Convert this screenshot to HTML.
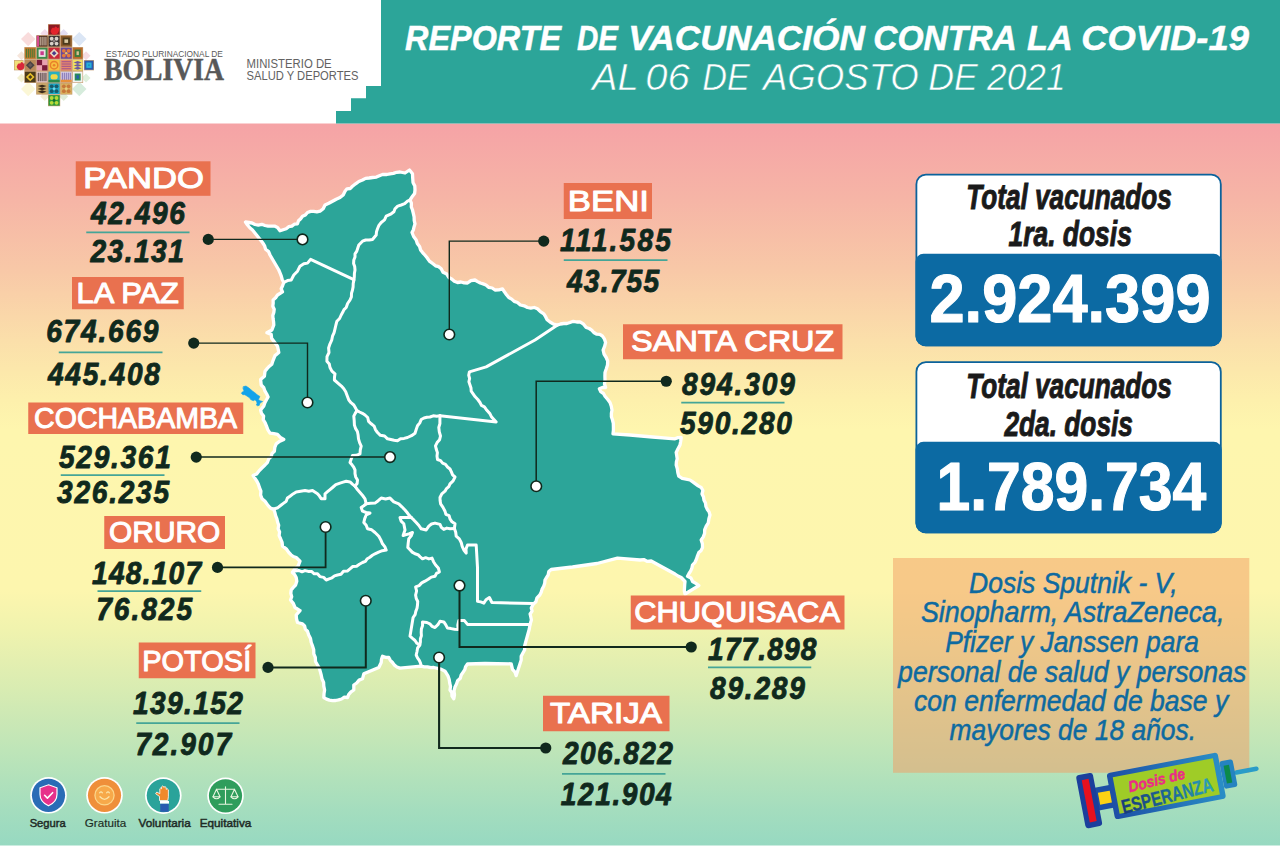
<!DOCTYPE html>
<html lang="es"><head><meta charset="utf-8"><title>Reporte de vacunación contra la COVID-19</title>
<style>html,body{margin:0;padding:0;background:#fff}body{width:1280px;height:847px;overflow:hidden;position:relative;font-family:"Liberation Sans",sans-serif}</style></head>
<body>
<svg width="1280" height="847" viewBox="0 0 1280 847" style="position:absolute;left:0;top:0;display:block">
<defs>
<linearGradient id="bg" x1="0" y1="0" x2="0" y2="1">
<stop offset="0" stop-color="#f5a3a6"/>
<stop offset="0.106" stop-color="#f6b5a6"/>
<stop offset="0.203" stop-color="#f8c8a7"/>
<stop offset="0.30" stop-color="#fbdfaa"/>
<stop offset="0.383" stop-color="#fdf0ac"/>
<stop offset="0.425" stop-color="#fef6ae"/>
<stop offset="0.646" stop-color="#fdf6ae"/>
<stop offset="0.701" stop-color="#f0f3ae"/>
<stop offset="0.743" stop-color="#e4efb0"/>
<stop offset="0.784" stop-color="#d8ecb2"/>
<stop offset="0.826" stop-color="#cbe8b5"/>
<stop offset="0.868" stop-color="#bee5b8"/>
<stop offset="0.909" stop-color="#b1e1bb"/>
<stop offset="0.951" stop-color="#a4ddbe"/>
<stop offset="1" stop-color="#97d9c1"/>
</linearGradient>
<linearGradient id="syr" x1="0" y1="0" x2="1" y2="0"><stop offset="0" stop-color="#1d4fa6"/><stop offset="1" stop-color="#2a8ec6"/></linearGradient>
<linearGradient id="esp" x1="0" y1="0" x2="1" y2="0"><stop offset="0" stop-color="#173a7a"/><stop offset="0.6" stop-color="#1f6f9c"/><stop offset="1" stop-color="#2aa3b8"/></linearGradient>
</defs>
<rect x="0" y="0" width="1280" height="847" fill="#fff"/>
<rect x="0" y="123.5" width="1280" height="722" fill="url(#bg)"/>
<polygon points="381,0 1280,0 1280,123.5 336,123.5 336,111 351,111 351,98.3 366,98.3 366,86 381,86" fill="#2ca599"/>
<g stroke-linejoin="round" stroke-linecap="round">
<polygon points="245.5,222.0 248.8,222.5 252.0,223.0 255.0,224.5 258.3,225.1 261.8,224.3 265.0,225.5 268.1,226.1 271.3,226.2 274.5,226.1 277.5,227.5 280.0,230.8 283.1,229.8 286.2,228.8 288.7,226.7 291.8,226.1 294.3,224.2 297.5,223.8 298.5,220.8 300.7,218.7 302.5,216.2 305.4,214.9 307.5,212.5 310.6,211.4 313.7,211.3 316.9,211.8 320.0,211.2 323.2,208.7 325.0,205.0 328.8,203.3 332.5,201.2 336.2,199.2 340.0,197.5 343.2,195.0 345.0,191.2 347.0,188.8 350.4,188.5 352.5,186.2 355.6,183.8 358.8,181.5 362.5,180.0 365.6,178.4 369.1,178.0 372.5,177.5 376.4,177.1 380.0,175.5 383.2,174.3 386.7,174.5 390.0,173.8 393.4,173.4 396.6,172.3 400.0,172.0 405.0,173.0 409.5,170.0 412.5,173.8 412.7,178.1 413.0,182.5 414.8,186.0 415.0,190.0 414.6,193.5 412.5,196.2 410.0,200.0 411.4,203.2 411.3,206.8 412.5,210.0 413.3,213.4 414.1,216.8 414.2,220.3 415.0,223.8 414.1,226.7 413.4,229.7 412.0,232.5 413.6,236.5 416.2,240.0 417.3,243.5 419.6,246.5 420.6,250.0 422.6,252.6 424.8,255.0 426.9,257.5 429.4,261.1 433.0,263.8 435.5,265.8 438.7,266.7 441.2,268.8 443.0,272.3 446.8,274.1 448.8,277.5 451.7,279.0 454.3,281.3 457.5,282.5 460.9,282.0 464.2,282.8 467.5,283.0 470.9,280.6 475.0,280.0 477.6,281.6 480.3,283.0 483.2,283.9 486.0,285.0 488.6,287.3 492.2,288.0 495.0,290.0 498.8,289.8 502.5,288.8 504.4,291.8 506.5,294.7 508.8,297.5 511.7,299.1 514.2,301.4 517.5,302.5 520.4,305.0 524.2,305.8 527.5,307.5 530.8,308.2 534.3,307.5 537.5,308.8 540.4,311.6 543.8,313.8 545.6,316.7 547.1,319.8 550.0,322.0 553.5,324.1 557.5,325.0 560.5,324.0 563.7,323.5 566.9,323.5 570.0,322.5 573.3,321.3 576.7,322.0 580.0,321.9 583.6,324.2 586.2,327.5 589.2,328.5 591.7,330.1 593.8,332.5 596.5,334.2 599.9,334.3 602.5,336.2 604.5,339.2 605.6,342.5 604.6,346.3 603.1,350.0 604.0,354.0 606.2,357.5 607.7,361.1 607.5,365.0 606.3,368.8 605.0,372.5 604.9,376.2 605.0,380.0 604.5,383.8 605.6,387.5 602.4,387.5 599.4,388.8 600.7,391.7 603.5,393.5 605.0,396.2 607.6,399.3 610.0,402.5 611.3,406.2 612.0,410.0 611.4,413.4 611.4,416.7 612.5,420.0 613.3,423.4 613.4,426.9 613.4,430.3 613.0,433.8 630.0,435.0 652.5,437.0 675.0,438.8 678.0,437.6 681.2,437.5 680.7,441.3 680.0,445.0 678.0,448.7 676.2,452.5 676.7,455.6 677.2,458.8 676.4,461.9 676.2,465.0 677.3,468.7 677.8,472.5 678.8,476.2 682.2,478.4 686.1,479.1 690.0,480.0 692.8,481.9 695.5,483.9 698.2,485.9 701.2,487.5 702.9,490.5 702.0,494.0 703.5,497.0 704.0,500.2 705.5,503.0 705.9,506.3 707.2,509.2 709.1,511.9 710.0,515.0 708.9,518.8 708.3,522.8 706.2,526.2 704.7,529.6 704.6,533.4 703.3,536.9 701.2,540.0 702.4,543.7 702.5,547.5 701.2,550.4 698.8,552.5 697.5,555.8 696.4,559.2 695.0,562.3 692.5,565.0 691.9,568.1 690.7,570.9 689.0,573.5 687.5,576.2 690.9,577.9 692.6,581.5 695.8,583.4 698.8,585.6 685.0,594.0 684.3,590.9 684.5,587.8 684.7,584.6 685.0,581.5 681.2,577.5 678.0,576.0 675.0,574.0 651.2,561.0 647.4,561.4 643.8,559.6 640.0,560.0 617.5,558.1 597.0,563.5 572.5,567.0 551.2,569.5 548.8,571.6 548.2,574.8 546.6,577.4 545.0,580.0 544.7,583.3 543.7,586.3 542.1,589.1 541.2,592.2 539.8,595.0 537.0,597.8 535.9,601.7 533.1,604.4 531.3,608.0 532.1,611.1 530.1,614.0 530.8,617.0 531.4,620.0 530.5,623.0 529.8,626.0 529.3,629.0 524.6,646.0 524.7,649.7 522.9,653.0 521.2,656.3 521.2,660.0 516.2,675.6 515.0,672.1 512.5,669.4 511.2,663.8 485.0,663.5 467.5,664.0 465.6,666.6 464.8,669.7 463.0,672.4 461.2,675.0 460.3,678.3 457.6,680.7 456.5,684.0 455.0,687.0 454.0,690.9 454.5,694.9 453.8,698.8 452.0,696.1 451.8,692.7 450.0,690.0 450.5,686.4 449.7,683.0 449.2,679.6 448.1,676.2 445.0,671.2 441.5,669.4 437.7,668.3 433.8,667.5 430.6,667.7 427.5,666.8 424.3,666.8 421.2,666.2 400.0,668.1 396.9,667.0 394.4,665.1 392.5,662.5 390.3,660.3 388.8,657.5 385.5,657.3 382.5,656.2 381.5,659.3 381.2,662.5 378.8,667.5 363.8,673.8 362.5,678.8 359.1,680.1 356.7,683.0 353.8,685.0 353.8,690.0 351.0,691.9 348.8,694.4 347.5,697.5 344.3,697.2 341.6,699.0 338.6,699.9 335.6,700.5 332.5,700.6 329.4,700.1 326.5,699.1 323.8,697.5 324.0,693.8 324.6,690.0 323.8,686.2 323.6,682.4 322.0,678.8 321.2,675.0 320.3,671.6 319.3,668.1 317.5,665.0 315.5,661.5 315.3,657.4 313.8,653.8 313.7,649.8 312.6,646.1 311.2,642.5 310.5,638.6 308.7,635.0 307.5,631.2 305.3,629.1 304.6,625.9 302.5,623.8 297.5,622.5 296.5,618.8 296.2,615.0 300.0,610.6 295.0,607.5 293.3,603.4 290.5,600.0 291.7,596.7 290.8,593.3 291.2,590.0 293.3,587.4 295.6,585.0 296.8,581.3 296.2,577.5 294.7,574.7 292.5,572.5 294.8,568.9 298.1,566.2 300.0,561.2 296.2,557.5 293.3,556.5 290.9,554.7 288.8,552.5 286.2,548.8 282.5,546.2 282.1,542.3 280.6,538.8 279.1,535.6 279.6,531.9 278.1,528.8 278.7,525.3 277.6,522.0 276.9,518.8 275.6,515.7 274.9,512.5 273.8,509.4 270.5,508.1 268.1,505.6 265.0,501.2 262.0,498.7 260.6,495.0 260.9,491.1 259.4,487.5 258.4,484.3 256.9,481.2 255.0,478.4 253.1,475.6 256.5,474.1 258.8,471.2 261.8,468.0 265.0,465.0 267.5,462.3 268.8,458.8 271.2,456.6 272.1,453.4 274.4,451.2 274.8,447.4 276.2,443.8 279.8,441.2 283.8,439.4 280.3,437.3 277.5,434.4 273.8,433.6 270.0,433.1 267.9,429.8 266.5,426.1 265.0,422.5 263.2,419.6 263.6,416.0 261.4,413.2 260.6,410.0 263.8,405.9 265.0,402.5 266.5,399.7 268.1,396.9 266.7,394.0 265.0,391.2 263.8,387.7 261.2,385.0 260.6,379.4 264.4,376.2 265.0,371.2 267.1,368.6 269.4,366.2 271.8,364.2 272.8,361.2 273.9,358.4 275.0,355.6 278.8,352.5 278.2,349.4 277.5,346.2 275.7,343.7 273.8,341.2 271.6,338.2 271.2,334.4 266.9,332.8 271.9,330.0 273.8,325.0 273.6,321.9 273.1,318.8 272.8,315.6 273.8,312.5 274.2,309.3 272.8,306.3 273.2,303.1 273.1,300.0 275.6,297.8 277.5,295.0 282.5,291.9 281.2,288.8 282.6,285.7 283.8,282.5 282.2,279.5 281.3,276.2 280.1,273.1 278.8,270.0 270.0,255.0 268.6,251.6 265.6,249.2 264.5,245.6 262.5,242.5 252.5,230.0 249.8,227.7 247.5,225.0" fill="#2ca599" stroke="#fff" stroke-width="3.3"/>
<polyline points="283.8,282.5 287.5,280.6 291.2,280.0 293.8,275.0 297.5,271.2 300.0,266.2 303.8,263.8 307.5,263.1 310.6,259.4 353.8,279.6" fill="none" stroke="#fff" stroke-width="3.0"/>
<polyline points="353.8,280.5 354.3,277.0 354.4,273.5 355.0,270.0 354.7,266.6 353.6,263.4 353.8,260.0 355.0,257.0 355.0,253.8 356.8,251.1 357.8,248.0 358.8,245.0 362.5,241.2 365.7,240.0 369.2,240.1 372.5,239.5 376.2,235.0 376.5,231.8 377.5,228.8 378.9,225.4 381.2,222.5 384.5,219.9 386.2,216.2 391.2,213.8 393.9,211.8 395.0,208.8 397.7,206.1 401.2,205.0 404.7,203.7 407.5,201.2 410.0,200.0" fill="none" stroke="#fff" stroke-width="3.0"/>
<polyline points="353.8,280.5 353.2,283.6 353.1,286.9 352.5,290.0 351.5,293.3 351.4,296.8 350.0,300.0 347.6,303.5 346.2,307.5 344.0,309.6 342.7,312.3 341.2,315.0 339.6,318.5 336.9,321.2 335.9,325.0 335.0,328.8 334.1,332.6 332.5,336.2 331.7,340.2 330.0,343.8 328.6,348.0 329.0,352.5 327.0,356.6 326.9,361.2 329.3,364.0 330.0,367.5 331.9,371.1 335.0,373.8 334.5,376.9 334.4,380.0 338.8,383.8 341.4,386.1 343.8,388.8 345.7,391.7 346.9,395.0 348.8,400.0 351.0,402.7 353.8,405.0 355.4,407.8 356.9,410.6" fill="none" stroke="#fff" stroke-width="3.0"/>
<polyline points="356.9,410.6 359.6,412.0 362.4,413.3 365.0,415.0 367.7,417.5 368.6,421.3 371.2,423.8 374.1,426.1 375.4,429.6 377.5,432.5 380.4,435.3 384.6,436.0 387.5,438.8 390.8,439.5 394.1,440.3 397.5,440.8 400.5,438.8 404.1,438.4 407.5,437.5 411.5,435.7 415.0,433.2 416.2,429.5 417.5,425.8 419.8,422.9 421.2,419.5 424.0,418.0 426.9,417.3 430.0,417.0 433.2,415.8 436.7,416.2 440.0,415.8" fill="none" stroke="#fff" stroke-width="3.0"/>
<polyline points="440.0,415.8 496.2,421.9 493.9,419.4 491.5,416.9 490.0,413.8 486.2,409.4 484.4,406.9 481.4,405.4 480.0,402.5 477.8,399.5 475.2,396.8 473.1,393.8 471.2,391.1 471.0,387.9 470.0,385.0 468.9,381.8 469.6,378.5 468.7,375.2 469.4,371.9 486.2,366.9 535.0,340.0 557.5,325.0" fill="none" stroke="#fff" stroke-width="3.0"/>
<polyline points="356.9,410.6 355.2,413.4 353.8,416.2 354.2,420.6 354.4,425.0 355.5,428.4 357.4,431.5 358.1,435.0 358.5,438.9 359.6,442.7 361.2,446.2 360.3,449.9 360.0,453.8 356.4,455.3 352.5,455.6 351.2,459.0 350.0,462.5 352.0,464.8 353.7,467.2 355.0,470.0 355.0,473.6 355.7,476.9 357.5,480.0 357.1,483.5 355.0,486.2" fill="none" stroke="#fff" stroke-width="3.0"/>
<polyline points="355.0,486.2 352.4,484.1 350.0,481.9 346.2,481.2 343.1,482.1 340.0,483.1 335.8,484.6 332.5,487.5 330.0,489.6 327.5,491.7 325.0,493.8 325.0,498.8 321.2,498.8 319.5,496.1 317.5,493.8 312.5,490.6 308.8,491.2 305.0,490.6 300.6,491.2 296.2,491.9 293.0,493.9 290.0,496.2 287.4,498.0 286.2,501.2 283.7,503.1 281.2,505.0 277.9,507.7 273.8,509.0" fill="none" stroke="#fff" stroke-width="3.0"/>
<polyline points="355.0,486.2 357.4,489.5 360.0,492.5 362.6,495.5 365.0,498.8 366.2,503.8" fill="none" stroke="#fff" stroke-width="3.0"/>
<polyline points="366.2,503.8 370.6,503.3 375.0,503.1 378.2,500.7 381.2,498.1 385.6,498.9 390.0,498.1 393.8,501.9 398.8,503.8 401.9,506.8 405.0,510.0 407.1,512.5 409.0,515.1 411.2,517.5" fill="none" stroke="#fff" stroke-width="3.0"/>
<polyline points="411.2,517.5 413.8,519.9 416.2,522.5 418.9,525.5 421.2,528.8 426.2,530.0 428.8,526.2 431.5,524.0 435.0,523.1 440.0,524.4 441.3,527.3 443.8,529.4 446.8,528.1 450.0,528.8 454.4,528.5" fill="none" stroke="#fff" stroke-width="3.0"/>
<polyline points="440.0,415.8 439.9,419.7 439.9,423.7 438.8,427.5 439.3,431.8 440.5,436.0 439.6,439.7 437.1,442.6 435.5,445.9 436.3,449.3 437.4,452.6 437.0,456.1 437.5,459.5 440.6,460.6 442.6,463.1 445.5,464.4 447.5,467.0 450.0,469.0 451.4,471.9 452.6,474.9 455.0,477.0 453.1,480.8 450.0,483.8 448.8,486.6 446.5,488.6 445.0,491.2 441.8,493.8 440.0,497.5 440.1,500.6 440.6,503.8 443.0,507.4 445.0,511.2 445.9,514.3 449.1,515.7 450.0,518.8 452.0,521.8 455.0,523.8 454.4,528.5" fill="none" stroke="#fff" stroke-width="3.0"/>
<polyline points="454.4,528.5 455.7,532.3 456.2,536.2 459.3,538.9 461.2,542.5 462.2,546.3 463.8,550.0 466.2,553.1 466.0,548.9 467.5,545.0 471.9,545.1 476.2,545.0 477.5,567.5 477.5,601.2 480.7,601.9 483.8,603.1 486.0,599.7 489.4,597.5 491.9,602.5 533.1,603.5" fill="none" stroke="#fff" stroke-width="3.0"/>
<polyline points="411.2,517.5 407.5,517.6 403.8,517.4 400.0,517.5 401.1,521.1 403.8,523.8 404.4,526.9 405.0,530.0 403.1,535.6 406.2,534.6 409.4,533.7 412.5,532.5 411.2,535.9 408.8,538.8 408.2,543.1 407.8,547.5 410.0,549.8 412.2,552.1 415.0,553.8 418.0,554.7 420.2,556.8 422.5,558.8 425.6,557.7 428.9,558.9 432.0,558.1 433.5,561.7 435.6,565.0 438.3,568.0 439.4,571.9 436.5,573.4 435.0,576.2 431.3,577.1 428.2,579.3 425.0,581.2 421.7,582.9 419.1,585.6 415.6,586.9 416.6,591.0 415.6,595.0 416.2,598.3 417.7,601.5 417.5,605.0 417.0,608.3 415.8,611.4 415.1,614.7 413.1,617.5 410.0,636.2 412.5,638.4 415.0,640.5 416.9,643.3 419.8,645.0" fill="none" stroke="#fff" stroke-width="3.0"/>
<polyline points="366.2,503.8 363.8,505.7 361.2,507.5 362.5,511.2 366.2,512.5 370.0,513.1 366.2,515.0 364.7,518.6 363.8,522.5 366.2,525.3 367.5,528.8 371.7,529.8 375.0,532.5 378.8,536.2 380.8,539.9 382.5,543.8 384.8,546.6 386.2,550.0 382.3,550.7 378.6,552.1 375.0,553.8 372.4,555.3 369.9,557.2 367.3,558.7 365.4,561.3 362.5,562.5 359.4,564.2 356.6,566.2 352.8,566.5 350.0,568.8 347.3,571.1 343.5,571.3 341.0,574.2 337.5,575.0 334.5,575.9 332.0,577.8 329.1,578.9 326.2,580.0 323.7,577.4 319.9,576.6 317.5,573.8 314.2,573.8 311.5,571.4 308.1,571.4 305.0,570.6 302.0,571.8 298.6,570.4 295.5,570.9 292.5,572.2" fill="none" stroke="#fff" stroke-width="3.0"/>
<polyline points="421.2,666.2 420.5,663.2 419.3,660.4 417.5,657.8 416.2,655.0 417.0,651.5 417.6,648.0 419.8,645.0 420.4,641.9 420.4,638.7 421.4,635.7 421.2,632.5 421.4,628.9 422.6,625.5 422.5,621.9 426.9,622.5 429.8,623.8 432.0,626.3 435.0,627.5 437.9,624.7 440.0,621.2 443.8,621.9 445.8,624.9 447.5,628.1 451.0,628.6 454.5,629.3 458.1,629.4 457.8,625.0 458.8,620.6 464.4,620.6 467.5,624.4 530.0,624.4" fill="none" stroke="#fff" stroke-width="3.0"/>
<polygon points="243.5,386.6 246.0,386.0 249.0,388.1 252.4,390.9 255.8,393.4 257.5,395.1 259.9,396.4 259.2,398.1 258.4,399.4 260.1,400.7 262.6,401.5 260.9,402.6 259.7,403.7 259.2,405.4 257.5,405.8 256.3,404.9 257.1,403.2 256.5,401.5 255.0,399.8 253.3,400.7 250.7,399.6 249.9,398.1 246.9,396.0 244.8,394.7 242.9,394.7 241.4,393.4 242.2,392.0 244.1,391.3 243.1,388.8" fill="#12a3ea" stroke="#12a3ea" stroke-width="0.6"/>
</g>
<polyline points="302.5,239.4 208.2,239.4" fill="none" stroke="#10291d" stroke-width="1.35"/>
<circle cx="302.5" cy="239.4" r="5.3" fill="#fff" stroke="#10291d" stroke-width="1.6"/>
<circle cx="208.25" cy="239.4" r="5.6" fill="#10291d"/>
<polyline points="307.5,402.5 307.5,343.1 193.8,343.1" fill="none" stroke="#10291d" stroke-width="1.4"/>
<circle cx="307.5" cy="402.5" r="5.3" fill="#fff" stroke="#10291d" stroke-width="1.6"/>
<circle cx="193.75" cy="343.1" r="5.6" fill="#10291d"/>
<polyline points="390.0,457.1 196.2,457.1" fill="none" stroke="#10291d" stroke-width="1.5"/>
<circle cx="390" cy="457.1" r="5.3" fill="#fff" stroke="#10291d" stroke-width="1.6"/>
<circle cx="196.25" cy="457.1" r="5.6" fill="#10291d"/>
<polyline points="325.6,527.0 325.6,567.4 217.5,567.4" fill="none" stroke="#10291d" stroke-width="1.8"/>
<circle cx="325.6" cy="527" r="5.3" fill="#fff" stroke="#10291d" stroke-width="1.6"/>
<circle cx="217.5" cy="567.4" r="5.6" fill="#10291d"/>
<polyline points="365.8,600.8 365.8,667.4 268.0,667.4" fill="none" stroke="#10291d" stroke-width="2.0"/>
<circle cx="365.75" cy="600.75" r="5.3" fill="#fff" stroke="#10291d" stroke-width="1.6"/>
<circle cx="268" cy="667.4" r="5.6" fill="#10291d"/>
<polyline points="449.3,334.5 449.3,241.1 543.8,241.1" fill="none" stroke="#10291d" stroke-width="1.4"/>
<circle cx="449.3" cy="334.5" r="5.3" fill="#fff" stroke="#10291d" stroke-width="1.6"/>
<circle cx="543.75" cy="241.1" r="5.6" fill="#10291d"/>
<polyline points="536.2,486.2 536.2,381.2 666.2,381.2" fill="none" stroke="#10291d" stroke-width="1.5"/>
<circle cx="536.25" cy="486.25" r="5.3" fill="#fff" stroke="#10291d" stroke-width="1.6"/>
<circle cx="666.25" cy="381.25" r="5.6" fill="#10291d"/>
<polyline points="459.5,585.6 459.5,647.0 691.2,647.0" fill="none" stroke="#10291d" stroke-width="2.0"/>
<circle cx="459.5" cy="585.6" r="5.3" fill="#fff" stroke="#10291d" stroke-width="1.6"/>
<circle cx="691.25" cy="647" r="5.6" fill="#10291d"/>
<polyline points="439.1,657.5 439.1,748.0 545.8,748.0" fill="none" stroke="#10291d" stroke-width="2.1"/>
<circle cx="439.1" cy="657.5" r="5.3" fill="#fff" stroke="#10291d" stroke-width="1.6"/>
<circle cx="545.75" cy="748" r="5.6" fill="#10291d"/>
<text x="405.10" y="50.3" textLength="155.92" lengthAdjust="spacingAndGlyphs" font-family="'Liberation Sans', sans-serif" font-size="34.5" font-weight="bold" font-style="italic" fill="#fff" stroke="#fff" stroke-width="0.5">REPORTE</text>
<text x="577.10" y="50.3" textLength="40.93" lengthAdjust="spacingAndGlyphs" font-family="'Liberation Sans', sans-serif" font-size="34.5" font-weight="bold" font-style="italic" fill="#fff" stroke="#fff" stroke-width="0.5">DE</text>
<text x="628.38" y="50.3" textLength="236.65" lengthAdjust="spacingAndGlyphs" font-family="'Liberation Sans', sans-serif" font-size="34.5" font-weight="bold" font-style="italic" fill="#fff" stroke="#fff" stroke-width="0.5">VACUNACIÓN</text>
<text x="873.23" y="50.3" textLength="143.48" lengthAdjust="spacingAndGlyphs" font-family="'Liberation Sans', sans-serif" font-size="34.5" font-weight="bold" font-style="italic" fill="#fff" stroke="#fff" stroke-width="0.5">CONTRA</text>
<text x="1027.12" y="50.3" textLength="45.60" lengthAdjust="spacingAndGlyphs" font-family="'Liberation Sans', sans-serif" font-size="34.5" font-weight="bold" font-style="italic" fill="#fff" stroke="#fff" stroke-width="0.5">LA</text>
<text x="1081.26" y="50.3" textLength="167.66" lengthAdjust="spacingAndGlyphs" font-family="'Liberation Sans', sans-serif" font-size="34.5" font-weight="bold" font-style="italic" fill="#fff" stroke="#fff" stroke-width="0.5">COVID-19</text>
<text x="592.01" y="90.4" textLength="46.60" lengthAdjust="spacingAndGlyphs" font-family="'Liberation Sans', sans-serif" font-size="36.3" font-weight="normal" font-style="italic" fill="#fff" stroke="#2ca599" stroke-width="0.55">AL</text>
<text x="645.36" y="90.4" textLength="44.53" lengthAdjust="spacingAndGlyphs" font-family="'Liberation Sans', sans-serif" font-size="36.3" font-weight="normal" font-style="italic" fill="#fff" stroke="#2ca599" stroke-width="0.55">06</text>
<text x="702.30" y="90.4" textLength="47.63" lengthAdjust="spacingAndGlyphs" font-family="'Liberation Sans', sans-serif" font-size="36.3" font-weight="normal" font-style="italic" fill="#fff" stroke="#2ca599" stroke-width="0.55">DE</text>
<text x="762.98" y="90.4" textLength="155.85" lengthAdjust="spacingAndGlyphs" font-family="'Liberation Sans', sans-serif" font-size="36.3" font-weight="normal" font-style="italic" fill="#fff" stroke="#2ca599" stroke-width="0.55">AGOSTO</text>
<text x="928.28" y="90.4" textLength="49.60" lengthAdjust="spacingAndGlyphs" font-family="'Liberation Sans', sans-serif" font-size="36.3" font-weight="normal" font-style="italic" fill="#fff" stroke="#2ca599" stroke-width="0.55">DE</text>
<text x="987.09" y="90.4" textLength="78.49" lengthAdjust="spacingAndGlyphs" font-family="'Liberation Sans', sans-serif" font-size="36.3" font-weight="normal" font-style="italic" fill="#fff" stroke="#2ca599" stroke-width="0.55">2021</text>
<text x="106.05" y="57.1" textLength="116.87" lengthAdjust="spacingAndGlyphs" font-family="'Liberation Sans', sans-serif" font-size="8.3" font-weight="normal" font-style="normal" fill="#5a5a5a" >ESTADO PLURINACIONAL DE</text>
<text x="104.10" y="79.6" textLength="119.90" lengthAdjust="spacingAndGlyphs" font-family="'Liberation Serif', sans-serif" font-size="30.6" font-weight="bold" font-style="normal" fill="#585858" stroke="#585858" stroke-width="0.45">BOLIVIA</text>
<text x="246.54" y="68.2" textLength="85.14" lengthAdjust="spacingAndGlyphs" font-family="'Liberation Sans', sans-serif" font-size="12.1" font-weight="normal" font-style="normal" fill="#626262" >MINISTERIO DE</text>
<text x="246.54" y="80.1" textLength="111.92" lengthAdjust="spacingAndGlyphs" font-family="'Liberation Sans', sans-serif" font-size="12.1" font-weight="normal" font-style="normal" fill="#626262" >SALUD Y DEPORTES</text>
<rect x="75.75" y="161.3" width="134.75" height="34.50" fill="#e9714f"/>
<text x="83.25" y="188.2" textLength="120.60" lengthAdjust="spacingAndGlyphs" font-family="'Liberation Sans', sans-serif" font-size="28.9" font-weight="normal" font-style="normal" fill="#fff" stroke="#fff" stroke-width="1.0" stroke-linejoin="round">PANDO</text>
<rect x="72" y="277" width="111.75" height="32.25" fill="#e9714f"/>
<text x="76.50" y="302.8" textLength="102.40" lengthAdjust="spacingAndGlyphs" font-family="'Liberation Sans', sans-serif" font-size="28.9" font-weight="normal" font-style="normal" fill="#fff" stroke="#fff" stroke-width="1.0" stroke-linejoin="round">LA PAZ</text>
<rect x="28.25" y="402.5" width="215.00" height="31.50" fill="#e9714f"/>
<text x="34.10" y="427.9" textLength="202.90" lengthAdjust="spacingAndGlyphs" font-family="'Liberation Sans', sans-serif" font-size="28.9" font-weight="normal" font-style="normal" fill="#fff" stroke="#fff" stroke-width="1.0" stroke-linejoin="round">COCHABAMBA</text>
<rect x="104.25" y="516" width="120.75" height="33.00" fill="#e9714f"/>
<text x="109.10" y="542.2" textLength="111.28" lengthAdjust="spacingAndGlyphs" font-family="'Liberation Sans', sans-serif" font-size="28.9" font-weight="normal" font-style="normal" fill="#fff" stroke="#fff" stroke-width="1.0" stroke-linejoin="round">ORURO</text>
<rect x="138.75" y="642.5" width="116.75" height="35.75" fill="#e9714f"/>
<text x="142.25" y="671.2" textLength="108.97" lengthAdjust="spacingAndGlyphs" font-family="'Liberation Sans', sans-serif" font-size="28.9" font-weight="normal" font-style="normal" fill="#fff" stroke="#fff" stroke-width="1.0" stroke-linejoin="round">POTOSÍ</text>
<rect x="563.75" y="183" width="88.25" height="36.00" fill="#e9714f"/>
<text x="567.80" y="210.7" textLength="81.10" lengthAdjust="spacingAndGlyphs" font-family="'Liberation Sans', sans-serif" font-size="28.9" font-weight="normal" font-style="normal" fill="#fff" stroke="#fff" stroke-width="1.0" stroke-linejoin="round">BENI</text>
<rect x="623" y="324.25" width="219.50" height="35.00" fill="#e9714f"/>
<text x="631.10" y="351.4" textLength="203.32" lengthAdjust="spacingAndGlyphs" font-family="'Liberation Sans', sans-serif" font-size="28.9" font-weight="normal" font-style="normal" fill="#fff" stroke="#fff" stroke-width="1.0" stroke-linejoin="round">SANTA CRUZ</text>
<rect x="630.75" y="595.5" width="213.75" height="34.00" fill="#e9714f"/>
<text x="634.15" y="622.2" textLength="205.85" lengthAdjust="spacingAndGlyphs" font-family="'Liberation Sans', sans-serif" font-size="28.9" font-weight="normal" font-style="normal" fill="#fff" stroke="#fff" stroke-width="1.0" stroke-linejoin="round">CHUQUISACA</text>
<rect x="543" y="695.75" width="126.50" height="35.50" fill="#e9714f"/>
<text x="550.05" y="723.2" textLength="111.95" lengthAdjust="spacingAndGlyphs" font-family="'Liberation Sans', sans-serif" font-size="28.9" font-weight="normal" font-style="normal" fill="#fff" stroke="#fff" stroke-width="1.0" stroke-linejoin="round">TARIJA</text>
<text transform="translate(90.97,223.9) scale(0.92,1)" textLength="102.20" lengthAdjust="spacing" font-family="'Liberation Sans', sans-serif" font-size="30.6" font-weight="bold" font-style="italic" fill="#10291d" stroke="#10291d" stroke-width="0.85" stroke-linejoin="round">42.496</text>
<text transform="translate(90.47,262.2) scale(0.92,1)" textLength="101.49" lengthAdjust="spacing" font-family="'Liberation Sans', sans-serif" font-size="30.6" font-weight="bold" font-style="italic" fill="#10291d" stroke="#10291d" stroke-width="0.85" stroke-linejoin="round">23.131</text>
<text transform="translate(46.15,342.2) scale(0.92,1)" textLength="122.15" lengthAdjust="spacing" font-family="'Liberation Sans', sans-serif" font-size="30.6" font-weight="bold" font-style="italic" fill="#10291d" stroke="#10291d" stroke-width="0.85" stroke-linejoin="round">674.669</text>
<text transform="translate(48.00,385.2) scale(0.92,1)" textLength="121.74" lengthAdjust="spacing" font-family="'Liberation Sans', sans-serif" font-size="30.6" font-weight="bold" font-style="italic" fill="#10291d" stroke="#10291d" stroke-width="0.85" stroke-linejoin="round">445.408</text>
<text transform="translate(59.05,467.9) scale(0.92,1)" textLength="121.52" lengthAdjust="spacing" font-family="'Liberation Sans', sans-serif" font-size="30.6" font-weight="bold" font-style="italic" fill="#10291d" stroke="#10291d" stroke-width="0.85" stroke-linejoin="round">529.361</text>
<text transform="translate(57.05,502.7) scale(0.92,1)" textLength="121.74" lengthAdjust="spacing" font-family="'Liberation Sans', sans-serif" font-size="30.6" font-weight="bold" font-style="italic" fill="#10291d" stroke="#10291d" stroke-width="0.85" stroke-linejoin="round">326.235</text>
<text transform="translate(92.05,584.2) scale(0.92,1)" textLength="118.53" lengthAdjust="spacing" font-family="'Liberation Sans', sans-serif" font-size="30.6" font-weight="bold" font-style="italic" fill="#10291d" stroke="#10291d" stroke-width="0.85" stroke-linejoin="round">148.107</text>
<text transform="translate(96.28,619.7) scale(0.92,1)" textLength="104.10" lengthAdjust="spacing" font-family="'Liberation Sans', sans-serif" font-size="30.6" font-weight="bold" font-style="italic" fill="#10291d" stroke="#10291d" stroke-width="0.85" stroke-linejoin="round">76.825</text>
<text transform="translate(133.07,714.0) scale(0.92,1)" textLength="119.43" lengthAdjust="spacing" font-family="'Liberation Sans', sans-serif" font-size="30.6" font-weight="bold" font-style="italic" fill="#10291d" stroke="#10291d" stroke-width="0.85" stroke-linejoin="round">139.152</text>
<text transform="translate(135.20,755.2) scale(0.92,1)" textLength="104.24" lengthAdjust="spacing" font-family="'Liberation Sans', sans-serif" font-size="30.6" font-weight="bold" font-style="italic" fill="#10291d" stroke="#10291d" stroke-width="0.85" stroke-linejoin="round">72.907</text>
<text transform="translate(560.05,250.9) scale(0.92,1)" textLength="120.62" lengthAdjust="spacing" font-family="'Liberation Sans', sans-serif" font-size="30.6" font-weight="bold" font-style="italic" fill="#10291d" stroke="#10291d" stroke-width="0.85" stroke-linejoin="round">111.585</text>
<text transform="translate(566.92,291.7) scale(0.92,1)" textLength="100.19" lengthAdjust="spacing" font-family="'Liberation Sans', sans-serif" font-size="30.6" font-weight="bold" font-style="italic" fill="#10291d" stroke="#10291d" stroke-width="0.85" stroke-linejoin="round">43.755</text>
<text transform="translate(682.00,394.7) scale(0.92,1)" textLength="122.77" lengthAdjust="spacing" font-family="'Liberation Sans', sans-serif" font-size="30.6" font-weight="bold" font-style="italic" fill="#10291d" stroke="#10291d" stroke-width="0.85" stroke-linejoin="round">894.309</text>
<text transform="translate(680.00,434.2) scale(0.92,1)" textLength="121.74" lengthAdjust="spacing" font-family="'Liberation Sans', sans-serif" font-size="30.6" font-weight="bold" font-style="italic" fill="#10291d" stroke="#10291d" stroke-width="0.85" stroke-linejoin="round">590.280</text>
<text transform="translate(708.00,660.2) scale(0.92,1)" textLength="117.91" lengthAdjust="spacing" font-family="'Liberation Sans', sans-serif" font-size="30.6" font-weight="bold" font-style="italic" fill="#10291d" stroke="#10291d" stroke-width="0.85" stroke-linejoin="round">177.898</text>
<text transform="translate(710.00,699.0) scale(0.92,1)" textLength="103.21" lengthAdjust="spacing" font-family="'Liberation Sans', sans-serif" font-size="30.6" font-weight="bold" font-style="italic" fill="#10291d" stroke="#10291d" stroke-width="0.85" stroke-linejoin="round">89.289</text>
<text transform="translate(562.90,764.2) scale(0.92,1)" textLength="119.67" lengthAdjust="spacing" font-family="'Liberation Sans', sans-serif" font-size="30.6" font-weight="bold" font-style="italic" fill="#10291d" stroke="#10291d" stroke-width="0.85" stroke-linejoin="round">206.822</text>
<text transform="translate(560.85,804.7) scale(0.92,1)" textLength="120.54" lengthAdjust="spacing" font-family="'Liberation Sans', sans-serif" font-size="30.6" font-weight="bold" font-style="italic" fill="#10291d" stroke="#10291d" stroke-width="0.85" stroke-linejoin="round">121.904</text>
<line x1="86.25" y1="232.35" x2="189.5" y2="232.35" stroke="#45a597" stroke-width="1.9"/>
<line x1="58.75" y1="352.35" x2="162.5" y2="352.35" stroke="#45a597" stroke-width="1.9"/>
<line x1="60.75" y1="475.1" x2="164.5" y2="475.1" stroke="#45a597" stroke-width="1.9"/>
<line x1="97.5" y1="591.1" x2="201.25" y2="591.1" stroke="#45a597" stroke-width="1.9"/>
<line x1="136.25" y1="723.1" x2="239.5" y2="723.1" stroke="#45a597" stroke-width="1.9"/>
<line x1="563.75" y1="260.1" x2="667.5" y2="260.1" stroke="#45a597" stroke-width="1.9"/>
<line x1="681.25" y1="402.6" x2="784.5" y2="402.6" stroke="#45a597" stroke-width="1.9"/>
<line x1="708" y1="667.35" x2="811.25" y2="667.35" stroke="#45a597" stroke-width="1.9"/>
<line x1="562" y1="773.85" x2="665.5" y2="773.85" stroke="#45a597" stroke-width="1.9"/>
<rect x="916.4" y="174.70000000000002" width="304.40000000000003" height="170.59999999999997" rx="9.5" ry="9.5" fill="#fff" stroke="#0b629b" stroke-width="1.8"/>
<path d="M915.5,261.8 a8,8 0 0 1 8,-8 H1213.7 a8,8 0 0 1 8,8 V336.2 a10,10 0 0 1 -10,10 H925.5 a10,10 0 0 1 -10,-10 Z" fill="#0c6aa3"/>
<text x="966.20" y="208.8" textLength="205.65" lengthAdjust="spacingAndGlyphs" font-family="'Liberation Sans', sans-serif" font-size="34.6" font-weight="bold" font-style="italic" fill="#1a1a1a" stroke="#1a1a1a" stroke-width="0.95">Total vacunados</text>
<text x="1008.52" y="246.3" textLength="123.33" lengthAdjust="spacingAndGlyphs" font-family="'Liberation Sans', sans-serif" font-size="34.6" font-weight="bold" font-style="italic" fill="#1a1a1a" stroke="#1a1a1a" stroke-width="0.95">1ra. dosis</text>
<text x="929.45" y="321.6" textLength="281.10" lengthAdjust="spacingAndGlyphs" font-family="'Liberation Sans', sans-serif" font-size="68.8" font-weight="bold" font-style="normal" fill="#fff" stroke="#fff" stroke-width="1.2" stroke-linejoin="round">2.924.399</text>
<rect x="916.4" y="362.2" width="304.40000000000003" height="170.10000000000002" rx="9.5" ry="9.5" fill="#fff" stroke="#0b629b" stroke-width="1.8"/>
<path d="M915.5,449.8 a8,8 0 0 1 8,-8 H1213.7 a8,8 0 0 1 8,8 V523.2 a10,10 0 0 1 -10,10 H925.5 a10,10 0 0 1 -10,-10 Z" fill="#0c6aa3"/>
<text x="966.20" y="397.8" textLength="205.65" lengthAdjust="spacingAndGlyphs" font-family="'Liberation Sans', sans-serif" font-size="34.6" font-weight="bold" font-style="italic" fill="#1a1a1a" stroke="#1a1a1a" stroke-width="0.95">Total vacunados</text>
<text x="1004.42" y="435.8" textLength="128.53" lengthAdjust="spacingAndGlyphs" font-family="'Liberation Sans', sans-serif" font-size="34.6" font-weight="bold" font-style="italic" fill="#1a1a1a" stroke="#1a1a1a" stroke-width="0.95">2da. dosis</text>
<text x="936.40" y="509.9" textLength="269.85" lengthAdjust="spacingAndGlyphs" font-family="'Liberation Sans', sans-serif" font-size="68.8" font-weight="bold" font-style="normal" fill="#fff" stroke="#fff" stroke-width="1.2" stroke-linejoin="round">1.789.734</text>
<rect x="893" y="558" width="356.3" height="214.8" fill="rgb(241,157,101)" fill-opacity="0.51"/>
<text x="969.10" y="592.6" textLength="208.55" lengthAdjust="spacingAndGlyphs" font-family="'Liberation Sans', sans-serif" font-size="29.5" font-weight="normal" font-style="italic" fill="#0e6aa0" stroke="#0e6aa0" stroke-width="0.5">Dosis Sputnik - V,</text>
<text x="920.93" y="622.2" textLength="303.55" lengthAdjust="spacingAndGlyphs" font-family="'Liberation Sans', sans-serif" font-size="29.5" font-weight="normal" font-style="italic" fill="#0e6aa0" stroke="#0e6aa0" stroke-width="0.5">Sinopharm, AstraZeneca,</text>
<text x="945.15" y="651.8" textLength="253.75" lengthAdjust="spacingAndGlyphs" font-family="'Liberation Sans', sans-serif" font-size="29.5" font-weight="normal" font-style="italic" fill="#0e6aa0" stroke="#0e6aa0" stroke-width="0.5">Pfizer y Janssen para</text>
<text x="898.10" y="681.6" textLength="348.24" lengthAdjust="spacingAndGlyphs" font-family="'Liberation Sans', sans-serif" font-size="29.5" font-weight="normal" font-style="italic" fill="#0e6aa0" stroke="#0e6aa0" stroke-width="0.5">personal de salud y personas</text>
<text x="914.10" y="710.9" textLength="314.10" lengthAdjust="spacingAndGlyphs" font-family="'Liberation Sans', sans-serif" font-size="29.5" font-weight="normal" font-style="italic" fill="#0e6aa0" stroke="#0e6aa0" stroke-width="0.5">con enfermedad de base y</text>
<text x="949.49" y="740.4" textLength="246.60" lengthAdjust="spacingAndGlyphs" font-family="'Liberation Sans', sans-serif" font-size="29.5" font-weight="normal" font-style="italic" fill="#0e6aa0" stroke="#0e6aa0" stroke-width="0.5">mayores de 18 años.</text>
<g transform="translate(1166.3,785.9) rotate(-10.8)">
<rect x="69" y="-2.300" width="25" height="4.6" rx="2.300" fill="#2a9cc8"/>
<rect x="56.5" y="-14" width="13.5" height="28" rx="2.5" fill="#2583c0"/>
<rect x="60" y="-9" width="5.5" height="18" fill="#0c8a4a"/>
<rect x="-72" y="-11.5" width="20" height="23" fill="#1d4fa6"/>
<rect x="-68.5" y="-6" width="13" height="12" fill="#fdd114"/>
<rect x="-87" y="-27" width="17" height="54" rx="3" fill="#1b3f9c"/>
<rect x="-82" y="-21.5" width="7" height="43" fill="#e8111f"/>
<rect x="-56.5" y="-23.5" width="113" height="47" rx="3.5" fill="url(#syr)"/>
<rect x="-51" y="-18.5" width="102" height="37" fill="#9fcc27"/>
<text x="-48.5" y="16.6" textLength="94" lengthAdjust="spacingAndGlyphs" font-family="'Liberation Sans', sans-serif" font-size="20" font-weight="bold" fill="url(#esp)" stroke="url(#esp)" stroke-width="0.3" transform="rotate(-3.5)">ESPERANZA</text>
<text x="-37" y="-2.5" textLength="58" lengthAdjust="spacingAndGlyphs" font-family="'Liberation Sans', sans-serif" font-size="15.5" font-weight="bold" font-style="italic" fill="#ea2d86" stroke="#ea2d86" stroke-width="0.5" transform="rotate(-3)">Dosis de</text>
</g>
<circle cx="48.5" cy="795.3" r="18.3" fill="#fff"/><circle cx="48.5" cy="795.3" r="16.6" fill="#2a6cb6"/>
<path d="M48.5,784.8 l8.5,3 v6.5 c0,6 -4,9.5 -8.5,11.5 c-4.5,-2 -8.5,-5.500 -8.5,-11.5 v-6.5 z" fill="#e7318b" stroke="#fff" stroke-width="1.2"/>
<path d="M44.6,795.3 l2.8,2.8 l5.2,-5.4" fill="none" stroke="#fff" stroke-width="1.6" stroke-linecap="round" stroke-linejoin="round"/>
<circle cx="104.5" cy="795.3" r="18.3" fill="#fff"/><circle cx="104.5" cy="795.3" r="16.6" fill="#ef8f3a"/>
<circle cx="104.5" cy="795.3" r="9.6" fill="#f7a94a" stroke="#fbd58a" stroke-width="1.3"/>
<path d="M100,796.8 q4.500,5 9,0" fill="none" stroke="#fbe3a8" stroke-width="1.3" stroke-linecap="round"/>
<path d="M99.6,792.8 q1.400,-2 2.800,0 M106.600,792.8 q1.400,-2 2.800,0" fill="none" stroke="#fbe3a8" stroke-width="1.2" stroke-linecap="round"/>
<circle cx="163.3" cy="795.5999999999999" r="18.3" fill="#fff"/><circle cx="163.3" cy="795.5999999999999" r="16.6" fill="#2aa39a"/>
<path d="M159.5,800.5 V796.5 L155.6,793.6999999999999 L156.8,792.0 L159.8,793.6999999999999 V788.8 Q160.700,787.0999999999999 161.600,788.8 V786.8 Q162.700,785.0 163.800,786.8 V787.3 Q165,785.6999999999999 166.200,787.5999999999999 V789.3 Q167.400,788.0999999999999 168.400,789.8 V796.8 L167.8,800.5 Z" fill="#f08a2c" stroke="#fff" stroke-width="0.8" stroke-linejoin="round"/>
<rect x="160.3" y="803.5" width="8.4" height="8.300" fill="#2a5cb0"/><rect x="160" y="801.0" width="9" height="2.600" fill="#fff"/>
<circle cx="225.5" cy="795.8" r="18.3" fill="#fff"/><circle cx="225.5" cy="795.8" r="16.6" fill="#2f9d5c"/>
<g fill="none" stroke="#e8f5e0" stroke-width="1.1" stroke-linecap="round" stroke-linejoin="round"><path d="M225.5,786.8 v17 M219,804.3 h13 M216.500,789.3 h18"/><path d="M216.5,789.3 l-3.5,7.500 h7 z M234.5,789.3 l-3.500,7.500 h7 z"/><path d="M213,796.8 q3.500,4 7,0 M231,796.8 q3.500,4 7,0"/></g>
<polygon points="21.0,39.1 28.2,31.9 35.4,39.1 28.2,46.3" fill="#f9dcdc"/>
<polygon points="72.1,39.1 79.3,31.9 86.5,39.1 79.3,46.3" fill="#dbe6f5"/>
<polygon points="21.0,89.0 28.2,81.8 35.4,89.0 28.2,96.2" fill="#fbf7d6"/>
<polygon points="72.1,89.0 79.3,81.8 86.5,89.0 79.3,96.2" fill="#d6ecdc"/>
<polygon points="40.3,33.5 44.8,29.0 49.3,33.5 44.8,38.0" fill="#f3dcea"/>
<polygon points="59.2,33.5 63.7,29.0 68.2,33.5 63.7,38.0" fill="#e4def2"/>
<polygon points="81.5,55.7 86.0,51.2 90.5,55.7 86.0,60.2" fill="#f6dde2"/>
<polygon points="81.5,78.0 86.0,73.5 90.5,78.0 86.0,82.5" fill="#dff0dc"/>
<polygon points="17.0,55.7 21.5,51.2 26.0,55.7 21.5,60.2" fill="#f6e6dc"/>
<polygon points="17.0,78.0 21.5,73.5 26.0,78.0 21.5,82.5" fill="#f3f0d0"/>
<polygon points="59.2,96.5 63.7,92.0 68.2,96.5 63.7,101.0" fill="#e0ecd8"/>
<polygon points="40.3,96.5 44.8,92.0 49.3,96.5 44.8,101.0" fill="#f4ecd4"/>
<rect x="48.00" y="24.10" width="12.20" height="11.10" fill="#c49a6c"/>
<rect x="48.60" y="24.70" width="11.00" height="9.90" fill="#8c1a22"/>
<path d="M50.60,31.15 q1.5,-5 3.5,-3 q1.500,-3.500 3.500,0 q2,-2 1.500,2 q-1,4 -4.500,4.500 q-3,0 -4,-3.500z" fill="#e3242b"/>
<rect x="36.20" y="35.20" width="11.80" height="11.90" fill="#c49a6c"/>
<rect x="36.80" y="35.80" width="10.60" height="10.70" fill="#4a2a1c"/>
<rect x="37.76" y="36.80" width="0.96" height="8.70" fill="#e6d6c2"/>
<rect x="39.69" y="36.80" width="0.96" height="8.70" fill="#e6d6c2"/>
<rect x="41.62" y="36.80" width="0.96" height="8.70" fill="#e6d6c2"/>
<rect x="43.55" y="36.80" width="0.96" height="8.70" fill="#e6d6c2"/>
<rect x="45.47" y="36.80" width="0.96" height="8.70" fill="#e6d6c2"/>
<rect x="36.80" y="35.80" width="2.2" height="10.70" fill="#d6498f"/>
<rect x="48.00" y="35.20" width="12.20" height="11.90" fill="#c49a6c"/>
<rect x="48.60" y="35.80" width="11.00" height="10.70" fill="#3a3232"/>
<circle cx="51.70" cy="38.75" r="1.9" fill="#d8d0c8"/>
<circle cx="56.50" cy="38.75" r="1.9" fill="#d8d0c8"/>
<circle cx="51.70" cy="43.55" r="1.9" fill="#d8d0c8"/>
<circle cx="56.50" cy="43.55" r="1.9" fill="#d8d0c8"/>
<circle cx="54.10" cy="41.15" r="1.300" fill="#8a8080"/>
<rect x="60.20" y="35.20" width="12.10" height="11.90" fill="#c49a6c"/>
<rect x="60.80" y="35.80" width="10.90" height="10.70" fill="#8a5a2a"/>
<rect x="62.60" y="37.60" width="7.30" height="7.10" fill="#4a3a1c"/>
<rect x="64.40" y="39.40" width="3.70" height="3.50" fill="#d8c8a0"/>
<rect x="24.30" y="47.10" width="11.90" height="12.20" fill="#c49a6c"/>
<rect x="24.90" y="47.70" width="10.70" height="11.00" fill="#c8782a"/>
<rect x="25.87" y="48.70" width="0.97" height="9.00" fill="#3a7a3a"/>
<rect x="27.82" y="48.70" width="0.97" height="9.00" fill="#3a7a3a"/>
<rect x="29.76" y="48.70" width="0.97" height="9.00" fill="#3a7a3a"/>
<rect x="31.71" y="48.70" width="0.97" height="9.00" fill="#3a7a3a"/>
<rect x="33.65" y="48.70" width="0.97" height="9.00" fill="#3a7a3a"/>
<rect x="36.20" y="47.10" width="11.80" height="12.20" fill="#c49a6c"/>
<rect x="36.80" y="47.70" width="10.60" height="11.00" fill="#3a8a4a"/>
<rect x="38.60" y="49.50" width="7.00" height="7.40" fill="#eadfe2"/>
<rect x="40.40" y="51.30" width="3.40" height="3.80" fill="#c83a8a"/>
<rect x="48.00" y="47.10" width="12.20" height="12.20" fill="#c49a6c"/>
<rect x="48.60" y="47.70" width="11.00" height="11.00" fill="#c8283a"/>
<polygon points="49.60,53.20 54.10,48.70 58.60,53.20 54.10,57.70" fill="#e8d8c0"/>
<polygon points="51.80,53.20 54.10,50.90 56.40,53.20 54.10,55.50" fill="#4a3a8a"/>
<rect x="60.20" y="47.10" width="12.10" height="12.20" fill="#c49a6c"/>
<rect x="60.80" y="47.70" width="10.90" height="11.00" fill="#6a4a9a"/>
<circle cx="63.85" cy="50.80" r="1.9" fill="#e87a3a"/>
<circle cx="68.65" cy="50.80" r="1.9" fill="#e87a3a"/>
<circle cx="63.85" cy="55.60" r="1.9" fill="#e87a3a"/>
<circle cx="68.65" cy="55.60" r="1.9" fill="#e87a3a"/>
<circle cx="66.25" cy="53.20" r="1.300" fill="#f0c060"/>
<rect x="72.30" y="47.10" width="10.80" height="12.20" fill="#c49a6c"/>
<rect x="72.90" y="47.70" width="9.60" height="11.00" fill="#b86a2a"/>
<rect x="74.70" y="49.50" width="6.00" height="7.40" fill="#3a7a3a"/>
<rect x="76.50" y="51.30" width="2.40" height="3.80" fill="#d8c090"/>
<rect x="14.00" y="60.10" width="9.50" height="10.20" fill="#c49a6c"/>
<rect x="14.60" y="60.70" width="8.30" height="9.00" fill="#f0e07a"/>
<path d="M16.60,66.70 q1.5,-5 3.5,-3 q1.500,-3.500 3.500,0 q2,-2 1.500,2 q-1,4 -4.500,4.500 q-3,0 -4,-3.500z" fill="#d8283a"/>
<rect x="24.30" y="59.30" width="11.90" height="11.80" fill="#c49a6c"/>
<rect x="24.90" y="59.90" width="10.70" height="10.60" fill="#b88a5a"/>
<polygon points="25.90,65.20 30.25,60.90 34.60,65.20 30.25,69.50" fill="#4a4444"/>
<polygon points="28.10,65.20 30.25,63.10 32.40,65.20 30.25,67.30" fill="#6a5a5a"/>
<rect x="36.20" y="59.30" width="11.80" height="11.80" fill="#c49a6c"/>
<rect x="36.80" y="59.90" width="10.60" height="10.60" fill="#e8a0b0"/>
<rect x="36.80" y="59.90" width="5.30" height="5.30" fill="#7a1a3a"/><rect x="42.10" y="65.20" width="5.30" height="5.30" fill="#7a1a3a"/>
<rect x="48.00" y="59.30" width="12.20" height="11.80" fill="#c49a6c"/>
<rect x="48.60" y="59.90" width="11.00" height="10.60" fill="#f7c040"/>
<circle cx="54.10" cy="65.20" r="3.74" fill="none" stroke="#e8802a" stroke-width="1.5"/>
<circle cx="54.10" cy="65.20" r="1.32" fill="#e8802a"/>
<rect x="60.20" y="59.30" width="12.10" height="11.80" fill="#c49a6c"/>
<rect x="60.80" y="59.90" width="10.90" height="10.60" fill="#e88a6a"/>
<rect x="61.60" y="61.08" width="9.30" height="1.18" fill="#a85a8a"/>
<rect x="61.60" y="63.43" width="9.30" height="1.18" fill="#a85a8a"/>
<rect x="61.60" y="65.79" width="9.30" height="1.18" fill="#a85a8a"/>
<rect x="61.60" y="68.14" width="9.30" height="1.18" fill="#a85a8a"/>
<rect x="72.30" y="59.30" width="10.80" height="11.80" fill="#c49a6c"/>
<rect x="72.90" y="59.90" width="9.60" height="10.60" fill="#f0e060"/>
<polygon points="73.70,62.53 77.70,61.10 81.70,62.53 77.70,63.97" fill="#6a5aa0"/>
<polygon points="73.70,65.40 77.70,63.97 81.70,65.40 77.70,66.83" fill="#6a5aa0"/>
<polygon points="73.70,68.27 77.70,66.83 81.70,68.27 77.70,69.70" fill="#6a5aa0"/>
<rect x="83.90" y="60.10" width="10.10" height="10.20" fill="#c49a6c"/>
<rect x="84.50" y="60.70" width="8.90" height="9.00" fill="#2a5ab0"/>
<rect x="86.30" y="62.50" width="5.30" height="5.40" fill="#28b0d8"/>
<rect x="88.10" y="64.30" width="1.70" height="1.80" fill="#1a90c0"/>
<rect x="24.30" y="71.10" width="11.90" height="11.80" fill="#c49a6c"/>
<rect x="24.90" y="71.70" width="10.70" height="10.60" fill="#4a3a1a"/>
<polygon points="25.90,77.00 30.25,72.70 34.60,77.00 30.25,81.30" fill="#e8c028"/>
<polygon points="28.10,77.00 30.25,74.90 32.40,77.00 30.25,79.10" fill="#4a3a1a"/>
<rect x="36.20" y="71.10" width="11.80" height="11.80" fill="#c49a6c"/>
<rect x="36.80" y="71.70" width="10.60" height="10.60" fill="#ecd0d0"/>
<rect x="37.76" y="72.70" width="0.96" height="8.60" fill="#3a2a2a"/>
<rect x="39.69" y="72.70" width="0.96" height="8.60" fill="#3a2a2a"/>
<rect x="41.62" y="72.70" width="0.96" height="8.60" fill="#3a2a2a"/>
<rect x="43.55" y="72.70" width="0.96" height="8.60" fill="#3a2a2a"/>
<rect x="45.47" y="72.70" width="0.96" height="8.60" fill="#3a2a2a"/>
<rect x="48.00" y="71.10" width="12.20" height="11.80" fill="#c49a6c"/>
<rect x="48.60" y="71.70" width="11.00" height="10.60" fill="#28b0c0"/>
<rect x="50.60" y="74.30" width="7.00" height="5.10" rx="2" fill="#f0d848"/>
<rect x="48.60" y="79.90" width="11.00" height="2.4" fill="#2a8a4a"/>
<rect x="60.20" y="71.10" width="12.10" height="11.80" fill="#c49a6c"/>
<rect x="60.80" y="71.70" width="10.90" height="10.60" fill="#d8d0e8"/>
<rect x="61.79" y="72.70" width="0.99" height="8.60" fill="#7a6ab0"/>
<rect x="63.77" y="72.70" width="0.99" height="8.60" fill="#7a6ab0"/>
<rect x="65.75" y="72.70" width="0.99" height="8.60" fill="#7a6ab0"/>
<rect x="67.74" y="72.70" width="0.99" height="8.60" fill="#7a6ab0"/>
<rect x="69.72" y="72.70" width="0.99" height="8.60" fill="#7a6ab0"/>
<rect x="60.80" y="79.70" width="10.90" height="2.6" fill="#e8903a"/>
<rect x="72.30" y="71.10" width="10.80" height="11.80" fill="#c49a6c"/>
<rect x="72.90" y="71.70" width="9.60" height="10.60" fill="#f4f4f0"/>
<rect x="74.70" y="73.50" width="6.00" height="7.00" fill="#2a8a5a"/>
<rect x="76.50" y="75.30" width="2.40" height="3.40" fill="#2a5ab0"/>
<rect x="36.20" y="82.90" width="11.80" height="11.70" fill="#c49a6c"/>
<rect x="36.80" y="83.50" width="10.60" height="10.50" fill="#c8a868"/>
<polygon points="37.60,86.12 42.10,84.70 46.60,86.12 42.10,87.53" fill="#3a2a1a"/>
<polygon points="37.60,88.95 42.10,87.53 46.60,88.95 42.10,90.37" fill="#3a2a1a"/>
<polygon points="37.60,91.78 42.10,90.37 46.60,91.78 42.10,93.20" fill="#3a2a1a"/>
<rect x="48.00" y="82.90" width="12.20" height="11.70" fill="#c49a6c"/>
<rect x="48.60" y="83.50" width="11.00" height="10.50" fill="#1aa8c8"/>
<circle cx="51.70" cy="86.35" r="1.9" fill="#1a5a6a"/>
<circle cx="56.50" cy="86.35" r="1.9" fill="#1a5a6a"/>
<circle cx="51.70" cy="91.15" r="1.9" fill="#1a5a6a"/>
<circle cx="56.50" cy="91.15" r="1.9" fill="#1a5a6a"/>
<circle cx="54.10" cy="88.75" r="1.300" fill="#7ad8e8"/>
<rect x="60.20" y="82.90" width="12.10" height="11.70" fill="#c49a6c"/>
<rect x="60.80" y="83.50" width="10.90" height="10.50" fill="#d8b060"/>
<circle cx="63.85" cy="86.35" r="1.9" fill="#c8783a"/>
<circle cx="68.65" cy="86.35" r="1.9" fill="#c8783a"/>
<circle cx="63.85" cy="91.15" r="1.9" fill="#c8783a"/>
<circle cx="68.65" cy="91.15" r="1.9" fill="#c8783a"/>
<circle cx="66.25" cy="88.75" r="1.300" fill="#e8d080"/>
<rect x="48.00" y="94.60" width="12.20" height="11.60" fill="#c49a6c"/>
<rect x="48.60" y="95.20" width="11.00" height="10.40" fill="#2a9a3a"/>
<circle cx="51.70" cy="98.00" r="1.9" fill="#b8d838"/>
<circle cx="56.50" cy="98.00" r="1.9" fill="#b8d838"/>
<circle cx="51.70" cy="102.80" r="1.9" fill="#b8d838"/>
<circle cx="56.50" cy="102.80" r="1.9" fill="#b8d838"/>
<circle cx="54.10" cy="100.40" r="1.300" fill="#1a6a2a"/>
<text x="29.67" y="826.9" textLength="36.09" lengthAdjust="spacingAndGlyphs" font-family="'Liberation Sans', sans-serif" font-size="11" font-weight="normal" font-style="normal" fill="#1c2c24" stroke="#1f2a26" stroke-width="0.45">Segura</text>
<text x="84.72" y="826.9" textLength="41.49" lengthAdjust="spacingAndGlyphs" font-family="'Liberation Sans', sans-serif" font-size="11" font-weight="normal" font-style="normal" fill="#1c2c24" stroke="#1f2a26" stroke-width="0.15">Gratuita</text>
<text x="138.57" y="826.9" textLength="52.19" lengthAdjust="spacingAndGlyphs" font-family="'Liberation Sans', sans-serif" font-size="11" font-weight="normal" font-style="normal" fill="#1c2c24" stroke="#1f2a26" stroke-width="0.45">Voluntaria</text>
<text x="199.67" y="826.9" textLength="51.71" lengthAdjust="spacingAndGlyphs" font-family="'Liberation Sans', sans-serif" font-size="11" font-weight="normal" font-style="normal" fill="#1c2c24" stroke="#1f2a26" stroke-width="0.45">Equitativa</text>
</svg>
</body></html>
